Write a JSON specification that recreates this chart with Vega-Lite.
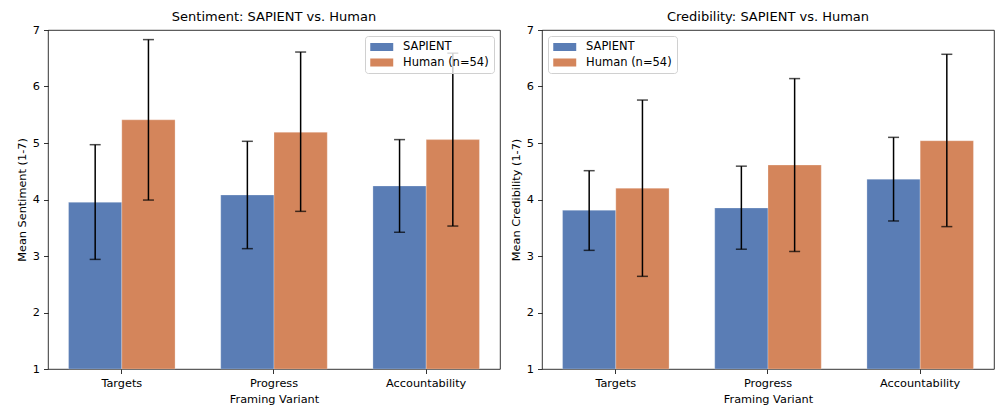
{
  "$schema": "https://vega.github.io/schema/vega-lite/v6.json",
  "padding": {"left": 15, "top": 10, "right": 0, "bottom": 2},
  "background": "white",
  "datasets": {
    "sentiment": [
      {"variant": "Targets", "group": "SAPIENT", "mean": 3.95, "lo": 2.94, "hi": 4.97},
      {"variant": "Targets", "group": "Human (n=54)", "mean": 5.41, "lo": 3.99, "hi": 6.83},
      {"variant": "Progress", "group": "SAPIENT", "mean": 4.08, "lo": 3.13, "hi": 5.03},
      {"variant": "Progress", "group": "Human (n=54)", "mean": 5.19, "lo": 3.79, "hi": 6.61},
      {"variant": "Accountability", "group": "SAPIENT", "mean": 4.24, "lo": 3.42, "hi": 5.06},
      {"variant": "Accountability", "group": "Human (n=54)", "mean": 5.06, "lo": 3.53, "hi": 6.59}
    ],
    "credibility": [
      {"variant": "Targets", "group": "SAPIENT", "mean": 3.81, "lo": 3.10, "hi": 4.51},
      {"variant": "Targets", "group": "Human (n=54)", "mean": 4.20, "lo": 2.64, "hi": 5.76},
      {"variant": "Progress", "group": "SAPIENT", "mean": 3.85, "lo": 3.12, "hi": 4.59},
      {"variant": "Progress", "group": "Human (n=54)", "mean": 4.61, "lo": 3.08, "hi": 6.14},
      {"variant": "Accountability", "group": "SAPIENT", "mean": 4.36, "lo": 3.62, "hi": 5.10},
      {"variant": "Accountability", "group": "Human (n=54)", "mean": 5.04, "lo": 3.52, "hi": 6.57}
    ]
  },
  "bounds": "flush",
  "spacing": 42,
  "resolve": {"legend": {"color": "independent"}, "scale": {"color": "independent"}},
  "hconcat": [
    {
      "title": {"text": "Sentiment: SAPIENT vs. Human", "offset": 0, "frame": "group", "fontSize": 13, "fontWeight": "normal", "color": "#000"},
      "width": 452,
      "height": 339,
      "data": {"name": "sentiment"},
      "encoding": {
        "x": {"field": "variant", "type": "nominal", "sort": ["Targets", "Progress", "Accountability"],
              "scale": {"paddingInner": 0.3, "paddingOuter": 0.135},
              "axis": {"title": "Framing Variant", "labelAngle": 0}},
        "xOffset": {"field": "group", "type": "nominal", "sort": ["SAPIENT", "Human (n=54)"], "scale": {"paddingInner": 0, "paddingOuter": 0}}
      },
      "layer": [
        {
          "mark": {"type": "bar", "stroke": "white", "strokeWidth": 0.5, "strokeOpacity": 0.5},
          "encoding": {
            "y": {"field": "mean", "type": "quantitative", "scale": {"domain": [1, 7], "nice": false, "zero": false},
                  "axis": {"title": "Mean Sentiment (1-7)", "values": [1, 2, 3, 4, 5, 6, 7], "format": "d"}},
            "y2": {"datum": 1},
            "color": {"field": "group", "type": "nominal", "sort": ["SAPIENT", "Human (n=54)"],
                      "scale": {"domain": ["SAPIENT", "Human (n=54)"], "range": ["#5a7db5", "#d4855b"]},
                      "legend": {"orient": "top-right", "offset": 6}}
          }
        },
        {
          "mark": {"type": "rule", "color": "black", "strokeWidth": 1.5},
          "encoding": {"y": {"field": "lo", "type": "quantitative"}, "y2": {"field": "hi"}}
        },
        {
          "mark": {"type": "tick", "color": "black", "thickness": 1.5, "size": 11, "orient": "horizontal"},
          "encoding": {"y": {"field": "lo", "type": "quantitative"}}
        },
        {
          "mark": {"type": "tick", "color": "black", "thickness": 1.5, "size": 11, "orient": "horizontal"},
          "encoding": {"y": {"field": "hi", "type": "quantitative"}}
        }
      ]
    },
    {
      "title": {"text": "Credibility: SAPIENT vs. Human", "offset": 0, "frame": "group", "fontSize": 13, "fontWeight": "normal", "color": "#000"},
      "width": 452,
      "height": 339,
      "data": {"name": "credibility"},
      "encoding": {
        "x": {"field": "variant", "type": "nominal", "sort": ["Targets", "Progress", "Accountability"],
              "scale": {"paddingInner": 0.3, "paddingOuter": 0.135},
              "axis": {"title": "Framing Variant", "labelAngle": 0}},
        "xOffset": {"field": "group", "type": "nominal", "sort": ["SAPIENT", "Human (n=54)"], "scale": {"paddingInner": 0, "paddingOuter": 0}}
      },
      "layer": [
        {
          "mark": {"type": "bar", "stroke": "white", "strokeWidth": 0.5, "strokeOpacity": 0.5},
          "encoding": {
            "y": {"field": "mean", "type": "quantitative", "scale": {"domain": [1, 7], "nice": false, "zero": false},
                  "axis": {"title": "Mean Credibility (1-7)", "values": [1, 2, 3, 4, 5, 6, 7], "format": "d"}},
            "y2": {"datum": 1},
            "color": {"field": "group", "type": "nominal", "sort": ["SAPIENT", "Human (n=54)"],
                      "scale": {"domain": ["SAPIENT", "Human (n=54)"], "range": ["#5a7db5", "#d4855b"]},
                      "legend": {"orient": "top-left", "offset": 6}}
          }
        },
        {
          "mark": {"type": "rule", "color": "black", "strokeWidth": 1.5},
          "encoding": {"y": {"field": "lo", "type": "quantitative"}, "y2": {"field": "hi"}}
        },
        {
          "mark": {"type": "tick", "color": "black", "thickness": 1.5, "size": 11, "orient": "horizontal"},
          "encoding": {"y": {"field": "lo", "type": "quantitative"}}
        },
        {
          "mark": {"type": "tick", "color": "black", "thickness": 1.5, "size": 11, "orient": "horizontal"},
          "encoding": {"y": {"field": "hi", "type": "quantitative"}}
        }
      ]
    }
  ],
  "config": {
    "font": "DejaVu Sans",
    "view": {"stroke": "#000", "strokeWidth": 0.8},
    "axis": {"grid": false, "domain": false, "tickColor": "#000", "labelColor": "#000", "titleColor": "#000",
             "labelFontSize": 11.3, "titleFontSize": 11.3, "titleFontWeight": "normal", "tickSize": 4.5,
             "tickWidth": 0.8, "labelPadding": 4, "titlePadding": 5},
    "legend": {"title": null, "fillColor": "rgba(255,255,255,0.8)", "strokeColor": "#d0d0d0", "cornerRadius": 3,
               "padding": 5, "symbolType": "M-1,-0.7L3,-0.7L3,0.7L-1,0.7Z", "symbolSize": 132,
               "symbolStrokeWidth": 0, "symbolOpacity": 1, "labelFontSize": 11.5, "labelColor": "#000",
               "labelOffset": 21, "rowPadding": 3.5}
  }
}
